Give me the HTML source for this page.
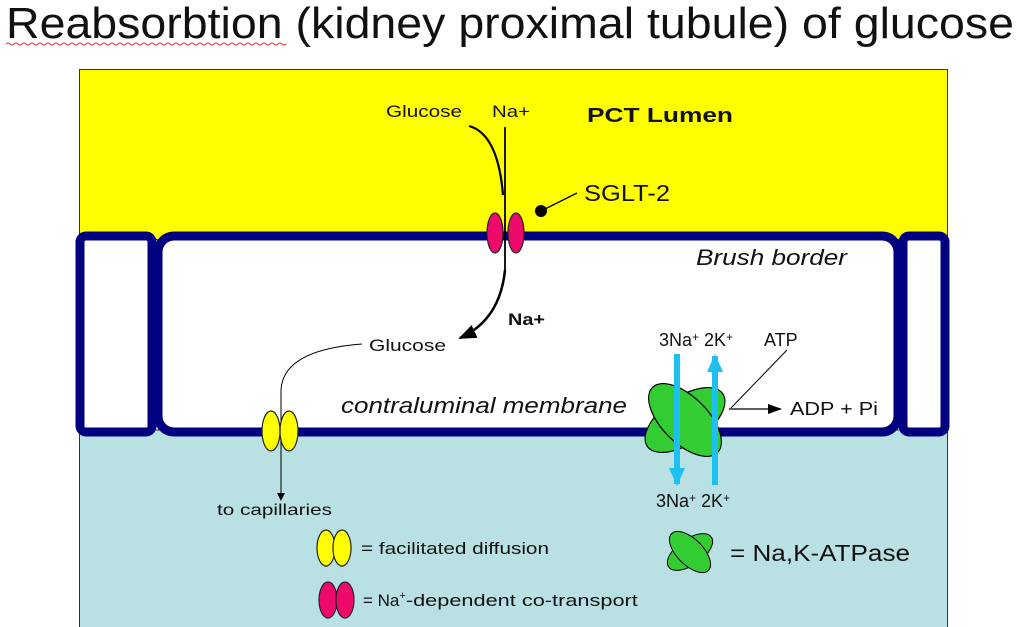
<!DOCTYPE html>
<html><head><meta charset="utf-8"><style>
html,body{margin:0;padding:0;background:#fff;width:1020px;height:627px;overflow:hidden}
svg{display:block}
text{font-family:"Liberation Sans",Arial,sans-serif;fill:#111}
</style></head><body>
<svg width="1020" height="627" viewBox="0 0 1020 627">
<defs>
<marker id="ah" markerWidth="14" markerHeight="10" refX="13" refY="5" orient="auto" markerUnits="userSpaceOnUse"><path d="M0,0 L14,5 L0,10 z" fill="#000"/></marker>
<marker id="ahb" markerWidth="18" markerHeight="14" refX="16" refY="7" orient="auto" markerUnits="userSpaceOnUse"><path d="M0,0 L18,7 L0,14 z" fill="#000"/></marker>
<marker id="ahs" markerWidth="8" markerHeight="8" refX="7" refY="4" orient="auto" markerUnits="userSpaceOnUse"><path d="M0,0 L8,4 L0,8 z" fill="#000"/></marker>
<marker id="ahc" markerWidth="18" markerHeight="16" refX="16" refY="8" orient="auto" markerUnits="userSpaceOnUse"><path d="M0,0 L18,8 L0,16 z" fill="#1ec0f0"/></marker>
</defs>
<text x="6" y="38" font-size="44" textLength="1008" lengthAdjust="spacingAndGlyphs">Reabsorbtion (kidney proximal tubule) of glucose</text>
<path d="M6,44 q2,-2 4,0 t4,0 t4,0 t4,0 t4,0 t4,0 t4,0 t4,0 t4,0 t4,0 t4,0 t4,0 t4,0 t4,0 t4,0 t4,0 t4,0 t4,0 t4,0 t4,0 t4,0 t4,0 t4,0 t4,0 t4,0 t4,0 t4,0 t4,0 t4,0 t4,0 t4,0 t4,0 t4,0 t4,0 t4,0 t4,0 t4,0 t4,0 t4,0 t4,0 t4,0 t4,0 t4,0 t4,0 t4,0 t4,0 t4,0 t4,0 t4,0 t4,0 t4,0 t4,0 t4,0 t4,0 t4,0 t4,0 t4,0 t4,0 t4,0 t4,0 t4,0 t4,0 t4,0 t4,0 t4,0 t4,0 t4,0 t4,0 t4,0 t4,0" fill="none" stroke="#f03030" stroke-width="1"/>
<rect x="79.5" y="69.5" width="868" height="170" fill="#ffff00" stroke="#333" stroke-width="1"/>
<rect x="79.5" y="430" width="868" height="200" fill="#b9e0e3" stroke="#333" stroke-width="1"/>
<rect x="80" y="236" width="72" height="196" rx="6" fill="#fff" stroke="#000080" stroke-width="9"/>
<rect x="158" y="236" width="740" height="196" rx="16" fill="#fff" stroke="#000080" stroke-width="9"/>
<rect x="903" y="236" width="42" height="196" rx="6" fill="#fff" stroke="#000080" stroke-width="9"/>
<text x="587" y="122" font-size="20" font-weight="bold" textLength="146" lengthAdjust="spacingAndGlyphs">PCT Lumen</text>
<text x="386" y="117" font-size="17" textLength="76" lengthAdjust="spacingAndGlyphs">Glucose</text>
<text x="492" y="117" font-size="17" textLength="38" lengthAdjust="spacingAndGlyphs">Na+</text>
<text x="584" y="201" font-size="23" textLength="86" lengthAdjust="spacingAndGlyphs">SGLT-2</text>
<line x1="541" y1="211" x2="577" y2="193" stroke="#000" stroke-width="1.3"/>
<circle cx="541" cy="211" r="6" fill="#000"/>
<path d="M469,126 Q498,134 503,195" fill="none" stroke="#000" stroke-width="2.2"/>
<line x1="505" y1="127" x2="505" y2="272" stroke="#000" stroke-width="1.8"/>
<path d="M505,270 Q500,320 460,338" fill="none" stroke="#000" stroke-width="2.5" marker-end="url(#ahb)"/>
<ellipse cx="495" cy="233" rx="8" ry="20" fill="#ee0a6a" stroke="#222" stroke-width="1.2"/>
<ellipse cx="516" cy="233" rx="8" ry="20" fill="#ee0a6a" stroke="#222" stroke-width="1.2"/>
<text x="508" y="325" font-size="17" font-weight="bold" textLength="37" lengthAdjust="spacingAndGlyphs">Na+</text>
<text x="369" y="351" font-size="17" textLength="77" lengthAdjust="spacingAndGlyphs">Glucose</text>
<text x="696" y="265" font-size="22" font-style="italic" textLength="151" lengthAdjust="spacingAndGlyphs">Brush border</text>
<text x="341" y="413" font-size="22" font-style="italic" textLength="286" lengthAdjust="spacingAndGlyphs">contraluminal membrane</text>
<path d="M362,344 Q283,350 281,390 L281,500" fill="none" stroke="#000" stroke-width="1" marker-end="url(#ahs)"/>
<ellipse cx="271" cy="431" rx="9" ry="20" fill="#ffff00" stroke="#222" stroke-width="1.2"/>
<ellipse cx="289" cy="431" rx="9" ry="20" fill="#ffff00" stroke="#222" stroke-width="1.2"/>
<text x="217" y="515" font-size="16" textLength="115" lengthAdjust="spacingAndGlyphs">to capillaries</text>
<g transform="translate(685,420)">
<ellipse cx="0" cy="0" rx="46" ry="23" transform="rotate(-35)" fill="#33cc33" stroke="#000" stroke-width="1.2"/>
<ellipse cx="0" cy="0" rx="46" ry="23" transform="rotate(45)" fill="#33cc33" stroke="#000" stroke-width="1.2"/>
</g>
<line x1="677" y1="354" x2="677" y2="484" stroke="#1ec0f0" stroke-width="6" marker-end="url(#ahc)"/>
<line x1="715" y1="485" x2="715" y2="356" stroke="#1ec0f0" stroke-width="6" marker-end="url(#ahc)"/>
<text x="659" y="346" font-size="18">3Na<tspan font-size="12" dy="-5">+</tspan><tspan dy="5"> 2K</tspan><tspan font-size="12" dy="-5">+</tspan></text>
<text x="656" y="507" font-size="18">3Na<tspan font-size="12" dy="-5">+</tspan><tspan dy="5"> 2K</tspan><tspan font-size="12" dy="-5">+</tspan></text>
<text x="764" y="346" font-size="18">ATP</text>
<line x1="731" y1="408" x2="787" y2="350" stroke="#000" stroke-width="1"/>
<line x1="729" y1="409" x2="781" y2="409" stroke="#000" stroke-width="1.3" marker-end="url(#ah)"/>
<text x="790" y="415" font-size="18" textLength="88" lengthAdjust="spacingAndGlyphs">ADP + Pi</text>
<ellipse cx="326" cy="548" rx="9" ry="18" fill="#ffff00" stroke="#222" stroke-width="1.2"/>
<ellipse cx="342" cy="548" rx="9" ry="18" fill="#ffff00" stroke="#222" stroke-width="1.2"/>
<text x="361" y="554" font-size="17" textLength="188" lengthAdjust="spacingAndGlyphs">= facilitated diffusion</text>
<ellipse cx="328" cy="600" rx="9" ry="18" fill="#ee0a6a" stroke="#222" stroke-width="1.2"/>
<ellipse cx="345" cy="600" rx="9" ry="18" fill="#ee0a6a" stroke="#222" stroke-width="1.2"/>
<text x="363" y="606" font-size="17">= Na<tspan font-size="11" dy="-7">+</tspan><tspan dy="7" textLength="232" lengthAdjust="spacingAndGlyphs">-dependent co-transport</tspan></text>
<g transform="translate(690,552)">
<ellipse cx="0" cy="0" rx="26" ry="13" transform="rotate(-35)" fill="#33cc33" stroke="#000" stroke-width="1"/>
<ellipse cx="0" cy="0" rx="26" ry="13" transform="rotate(45)" fill="#33cc33" stroke="#000" stroke-width="1"/>
</g>
<text x="730" y="561" font-size="23" textLength="180" lengthAdjust="spacingAndGlyphs">= Na,K-ATPase</text>
</svg>
</body></html>
